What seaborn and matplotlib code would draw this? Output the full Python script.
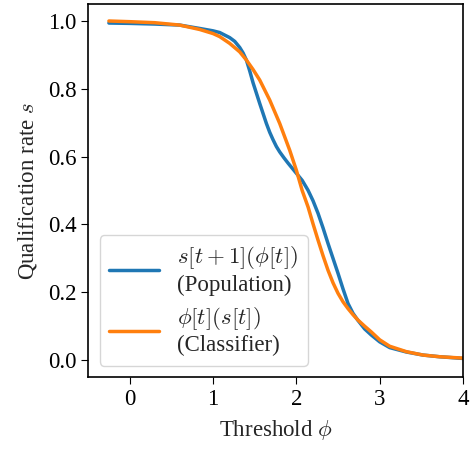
import matplotlib
matplotlib.use("Agg")
import matplotlib.pyplot as plt
import seaborn as sns
import pandas as pd

# threshold values and qualification rates
x_pop = [-0.25, 0.0, 0.3, 0.6, 0.84, 1.0, 1.08, 1.2, 1.26, 1.32, 1.36, 1.4, 1.44, 1.48, 1.56,
         1.64, 1.68, 1.72, 1.76, 1.8, 1.85, 1.9, 1.95, 2.0, 2.07, 2.14, 2.2, 2.26, 2.32, 2.38,
         2.44, 2.5, 2.56, 2.62, 2.68, 2.74, 2.82, 2.9, 3.0, 3.12, 3.32, 3.52, 3.72, 4.0]
s_pop = [0.994, 0.993, 0.991, 0.988, 0.978, 0.971, 0.966, 0.951, 0.94, 0.922, 0.906, 0.885,
         0.853, 0.818, 0.757, 0.698, 0.672, 0.65, 0.63, 0.614, 0.597, 0.581, 0.566, 0.551,
         0.53, 0.501, 0.47, 0.433, 0.39, 0.344, 0.3, 0.256, 0.21, 0.167, 0.138, 0.117,
         0.092, 0.074, 0.054, 0.037, 0.024, 0.015, 0.01, 0.005]

x_clf = [-0.25, 0.0, 0.3, 0.6, 0.84, 1.0, 1.08, 1.2, 1.32, 1.4, 1.48, 1.56, 1.68, 1.8, 1.92,
         2.0, 2.07, 2.14, 2.2, 2.26, 2.32, 2.38, 2.44, 2.5, 2.56, 2.62, 2.68, 2.74, 2.82,
         2.9, 3.0, 3.12, 3.32, 3.52, 3.72, 4.0]
s_clf = [1.0, 0.998, 0.995, 0.988, 0.975, 0.963, 0.954, 0.934, 0.909, 0.885, 0.857, 0.826,
         0.767, 0.698, 0.619, 0.56, 0.5, 0.452, 0.402, 0.354, 0.308, 0.265, 0.228, 0.197,
         0.172, 0.152, 0.134, 0.118, 0.1, 0.083, 0.06, 0.041, 0.025, 0.015, 0.01, 0.006]

lab_pop = "$s[t+1](\\phi[t])$\n(Population)"
lab_clf = "$\\phi[t](s[t])$\n(Classifier)"

sns.set_style("ticks")
plt.rcParams["font.family"] = ["Liberation Serif", "DejaVu Serif"]
plt.rcParams["mathtext.fontset"] = "cm"
fs = 16.5
plt.rcParams["font.size"] = fs

df_pop = pd.DataFrame({"phi": x_pop, "s": s_pop})
df_clf = pd.DataFrame({"phi": x_clf, "s": s_clf})

fig, ax = plt.subplots(figsize=(4.71, 4.5), dpi=100)
fig.subplots_adjust(left=0.187, right=0.983, top=0.991, bottom=0.162)

sns.lineplot(data=df_pop, x="phi", y="s", ax=ax, color="#1f77b4", lw=2.5, label=lab_pop)
sns.lineplot(data=df_clf, x="phi", y="s", ax=ax, color="#ff7f0e", lw=2.5, label=lab_clf)

ax.set_xlim(-0.5, 4)
ax.set_ylim(-0.05, 1.05)
ax.set_xticks([0, 1, 2, 3, 4])
ax.set_yticks([0.0, 0.2, 0.4, 0.6, 0.8, 1.0])
ax.set_xlabel("Threshold $\\phi$", fontsize=fs, labelpad=6)
ax.set_ylabel("Qualification rate $s$", fontsize=fs, labelpad=6)
for sp in ax.spines.values():
    sp.set_color("black")
    sp.set_linewidth(1.2)
ax.tick_params(labelsize=fs, colors="black", length=5)

ax.legend(loc="lower left", fontsize=fs, handlelength=2.2, frameon=True, framealpha=0.8,
          borderaxespad=0.5, labelspacing=0.4)

plt.savefig("out.png", dpi=100)
